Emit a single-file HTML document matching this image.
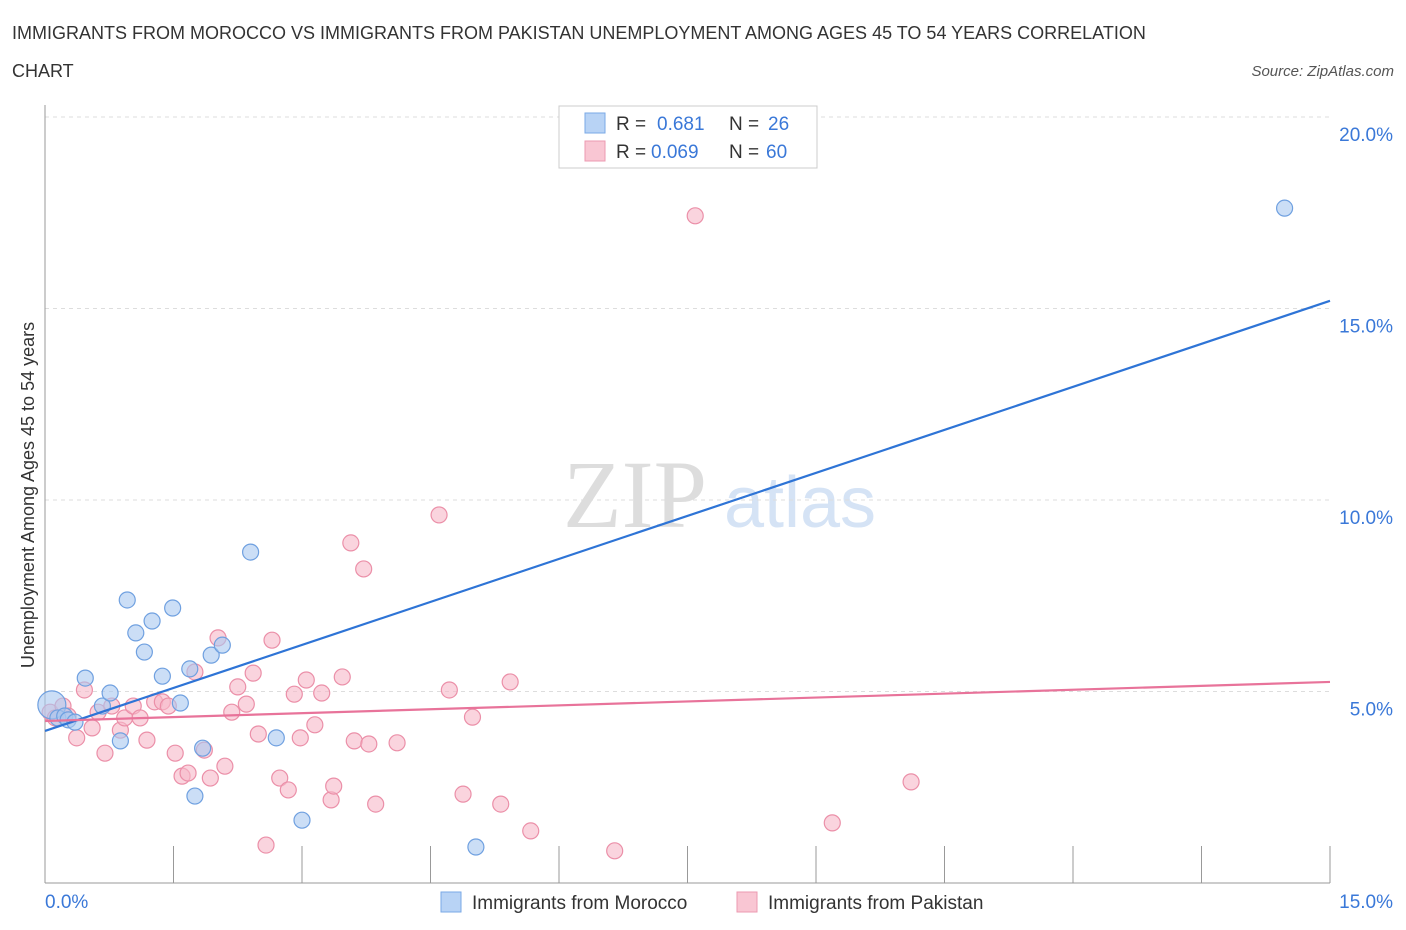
<!DOCTYPE html>
<html><head><meta charset="utf-8"><style>
body{margin:0;background:#fff;font-family:"Liberation Sans",sans-serif;}
svg{display:block}
</style></head><body>
<svg id="chart" width="1406" height="930">
<text x="12" y="39" font-size="18" fill="#333">IMMIGRANTS FROM MOROCCO VS IMMIGRANTS FROM PAKISTAN UNEMPLOYMENT AMONG AGES 45 TO 54 YEARS CORRELATION</text>
<text x="12" y="77" font-size="18" fill="#333">CHART</text>
<text x="1394" y="76" font-size="15" fill="#555" font-style="italic" text-anchor="end">Source: ZipAtlas.com</text>
<text x="635" y="527" font-size="96" fill="#ddd" font-family="Liberation Serif" text-anchor="middle">ZIP</text>
<text x="800" y="527" font-size="72" fill="#d5e3f5" text-anchor="middle">atlas</text>
<g id="grid"></g>
<g id="axes"></g>
<g id="marks"></g>
<text transform="translate(34,495) rotate(-90)" font-size="18" fill="#333" text-anchor="middle">Unemployment Among Ages 45 to 54 years</text>
<g>
<rect x="559" y="106" width="258" height="62" fill="#fff" stroke="#ccc"/>
<rect x="585" y="113" width="20" height="20" fill="#b8d3f5" stroke="#7aa8e6"/>
<text x="616" y="130" font-size="19" fill="#333">R = </text><text x="657" y="130" font-size="19" fill="#3a78d8">0.681</text>
<text x="729" y="130" font-size="19" fill="#333">N = </text><text x="768" y="130" font-size="19" fill="#3a78d8">26</text>
<rect x="585" y="141" width="20" height="20" fill="#f9c6d3" stroke="#ec9ab0"/>
<text x="616" y="158" font-size="19" fill="#333">R = </text><text x="651" y="158" font-size="19" fill="#3a78d8">0.069</text>
<text x="729" y="158" font-size="19" fill="#333">N = </text><text x="766" y="158" font-size="19" fill="#3a78d8">60</text>
</g>
<g>
<rect x="441" y="892" width="20" height="20" fill="#b8d3f5" stroke="#7aa8e6"/>
<text x="472" y="909" font-size="19" fill="#333">Immigrants from Morocco</text>
<rect x="737" y="892" width="20" height="20" fill="#f9c6d3" stroke="#ec9ab0"/>
<text x="768" y="909" font-size="19" fill="#333">Immigrants from Pakistan</text>
</g>
</svg>
<script>
const yTicks=[5,10,15,20];
const yTickLabels=["5.0%","10.0%","15.0%","20.0%"];
const xTickLabels=["0.0%","15.0%"];
const moroccoX=[0.08,0.15,0.23,0.27,0.35,0.47,0.67,0.76,0.88,0.96,1.06,1.16,1.25,1.37,1.49,1.58,1.69,1.75,1.84,1.94,2.07,2.40,2.70,3.00,5.03,14.47];
const moroccoY=[4.65,4.31,4.36,4.26,4.20,5.35,4.62,4.96,3.71,7.39,6.53,6.03,6.84,5.40,7.18,4.70,5.59,2.27,3.52,5.95,6.21,8.64,3.79,1.64,0.94,17.62];
const pakistanX=[0.06,0.12,0.21,0.27,0.37,0.46,0.55,0.62,0.70,0.78,0.88,0.93,1.03,1.11,1.19,1.28,1.37,1.44,1.52,1.60,1.67,1.75,1.86,1.93,2.02,2.10,2.18,2.25,2.35,2.43,2.49,2.58,2.65,2.74,2.84,2.91,2.98,3.05,3.15,3.23,3.34,3.37,3.47,3.57,3.61,3.72,3.78,3.86,4.11,4.60,4.72,4.88,4.99,5.32,5.43,5.67,6.65,7.59,9.19,10.11];
const pakistanY=[4.46,4.31,4.62,4.36,3.79,5.04,4.05,4.46,3.39,4.62,3.99,4.31,4.62,4.31,3.73,4.73,4.73,4.62,3.39,2.79,2.87,5.51,3.47,2.74,6.40,3.05,4.46,5.12,4.67,5.48,3.89,0.99,6.34,2.74,2.43,4.93,3.79,5.30,4.13,4.96,2.17,2.53,5.38,8.88,3.71,8.20,3.63,2.06,3.66,9.61,5.04,2.32,4.33,2.06,5.25,1.36,0.84,17.42,1.57,2.64];
const moroccoTrend=[3.97,15.20];
const pakistanTrend=[4.23,5.25];
const NS="http://www.w3.org/2000/svg";
const sx=v=>45+v/15*1285;
const sy=v=>883-v*38.3;
function mk(tag,attrs,parent){const e=document.createElementNS(NS,tag);for(const k in attrs)e.setAttribute(k,attrs[k]);parent.appendChild(e);return e;}
const grid=document.getElementById('grid'),axes=document.getElementById('axes'),marks=document.getElementById('marks');
yTicks.forEach((t,i)=>{
 const l=mk('line',{x1:45,x2:1330,y1:sy(t),y2:sy(t),stroke:'#ddd','stroke-dasharray':'4,4'},grid);
 
 
 const tx=mk('text',{x:1393,y:sy(t)+24,'font-size':19,fill:'#3a78d8','text-anchor':'end'},axes);
 tx.textContent=yTickLabels[i];
 
 
});
const ax=mk('line',{x1:45,x2:45,y1:105,y2:883,stroke:'#999'},axes);


const bx=mk('line',{x1:45,x2:1330,y1:883,y2:883,stroke:'#999'},axes);


for(let i=0;i<=10;i++){
 const t=mk('line',{x1:sx(i*1.5),x2:sx(i*1.5),y1:846,y2:883,stroke:'#999'},axes);
 
 
}
[[0,'start',45],[15,'end',1393]].forEach((d,i)=>{
 const t=mk('text',{x:d[2],y:908,'font-size':19,fill:'#3a78d8','text-anchor':d[1]},axes);
 t.textContent=xTickLabels[i];
 
 
});
function pts(X,Y,fill,stroke,name){
 X.forEach((x,i)=>{
  const c=mk('circle',{cx:sx(x),cy:sy(Y[i]),r:i===0&&name==='morocco-point'?14:8,fill:fill,'fill-opacity':0.6,stroke:stroke,'stroke-width':1.2},marks);
  
  
 });
}
pts(pakistanX,pakistanY,'#f7b8c8','#eb8fa8','pakistan-point');
pts(moroccoX,moroccoY,'#a9c8f0','#6fa0e0','morocco-point');
const l1=mk('line',{x1:sx(0),y1:sy(moroccoTrend[0]),x2:sx(15),y2:sy(moroccoTrend[1]),stroke:'#2e74d6','stroke-width':2.2},marks);


const l2=mk('line',{x1:sx(0),y1:sy(pakistanTrend[0]),x2:sx(15),y2:sy(pakistanTrend[1]),stroke:'#e8739a','stroke-width':2.2},marks);


</script>
</body></html>
